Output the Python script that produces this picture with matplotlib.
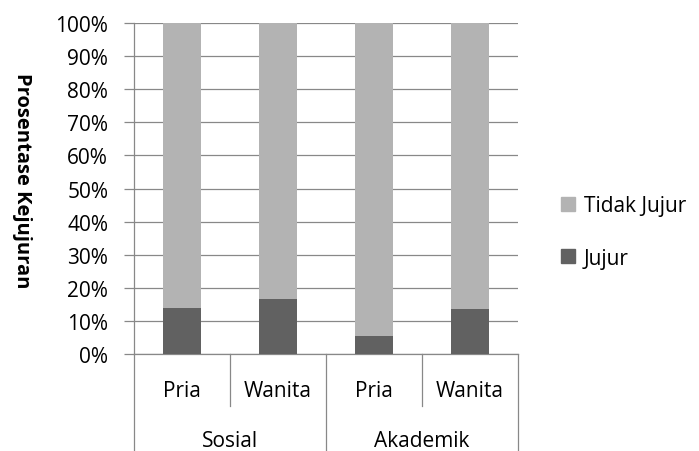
import matplotlib
matplotlib.use("Agg")
import matplotlib.pyplot as plt
import matplotlib.transforms as mtransforms
from matplotlib.patches import Patch

plt.rcParams['font.family'] = ['Open Sans', 'DejaVu Sans']

groups = ["Sosial", "Akademik"]
subcats = ["Pria", "Wanita", "Pria", "Wanita"]
jujur = [14.0, 16.5, 5.5, 13.5]
tidak_jujur = [86.0, 83.5, 94.5, 86.5]
yticks = [0, 10, 20, 30, 40, 50, 60, 70, 80, 90, 100]
ytick_labels = ["0%", "10%", "20%", "30%", "40%", "50%", "60%", "70%", "80%", "90%", "100%"]

c_dark = "#616161"
c_light = "#b3b3b3"
c_grid = "#888888"
FS = 15

fig = plt.figure(figsize=(6.99, 4.52), dpi=100)
ax = fig.add_axes([133.5/699, 1-355/452, (518-133.5)/699, 331/452])

x = list(range(len(subcats)))
ax.bar(x, jujur, width=0.396, color=c_dark, zorder=3)
ax.bar(x, tidak_jujur, bottom=jujur, width=0.396, color=c_light, zorder=3)

ax.set_xlim(-0.5, len(subcats) - 0.5)
ax.set_ylim(0, 100)
ax.set_yticks(yticks)
ax.set_yticklabels(ytick_labels, fontsize=FS)
ax.yaxis.grid(True, color=c_grid, linewidth=0.9, zorder=0)
ax.tick_params(axis='y', length=7.2, width=0.9, color=c_grid, pad=11, direction='out')
ax.set_xticks([])
for s in ['top', 'right']:
    ax.spines[s].set_visible(False)
ax.spines['left'].set_color(c_grid)
ax.spines['left'].set_linewidth(0.9)
ax.spines['bottom'].set_color(c_grid)
ax.spines['bottom'].set_linewidth(0.9)

trans = mtransforms.blended_transform_factory(ax.transData, ax.transAxes)
fig_bottom = -(452 - 355) / 331
inner_bottom = -(407 - 355) / 331
for xv in [-0.5, 1.5, 3.5]:
    ax.plot([xv, xv], [0, fig_bottom], transform=trans, color=c_grid, lw=0.9, clip_on=False)
for xv in [0.5, 2.5]:
    ax.plot([xv, xv], [0, inner_bottom], transform=trans, color=c_grid, lw=0.9, clip_on=False)

for xi, lab in zip(x, subcats):
    ax.text(xi, -(397 - 355)/331, lab, transform=trans, ha='center', va='baseline', fontsize=FS)
for gi, g in enumerate(groups):
    ax.text(gi*2 + 0.5, -(447 - 355)/331, g, transform=trans, ha='center', va='baseline', fontsize=FS)

fig.text(22/699, 1-181/452, "Prosentase Kejujuran", rotation=-90, ha='center', va='center',
         fontsize=14.5, fontweight='bold')

handles = [Patch(color=c_light, label="Tidak Jujur"), Patch(color=c_dark, label="Jujur")]
fig.legend(handles=handles, loc='center left', bbox_to_anchor=(561/699, 1-233/452),
           frameon=False, fontsize=FS, handlelength=0.65, handleheight=0.65,
           handletextpad=0.45, labelspacing=1.5, borderpad=0, borderaxespad=0)

fig.savefig("out.png", dpi=100)
